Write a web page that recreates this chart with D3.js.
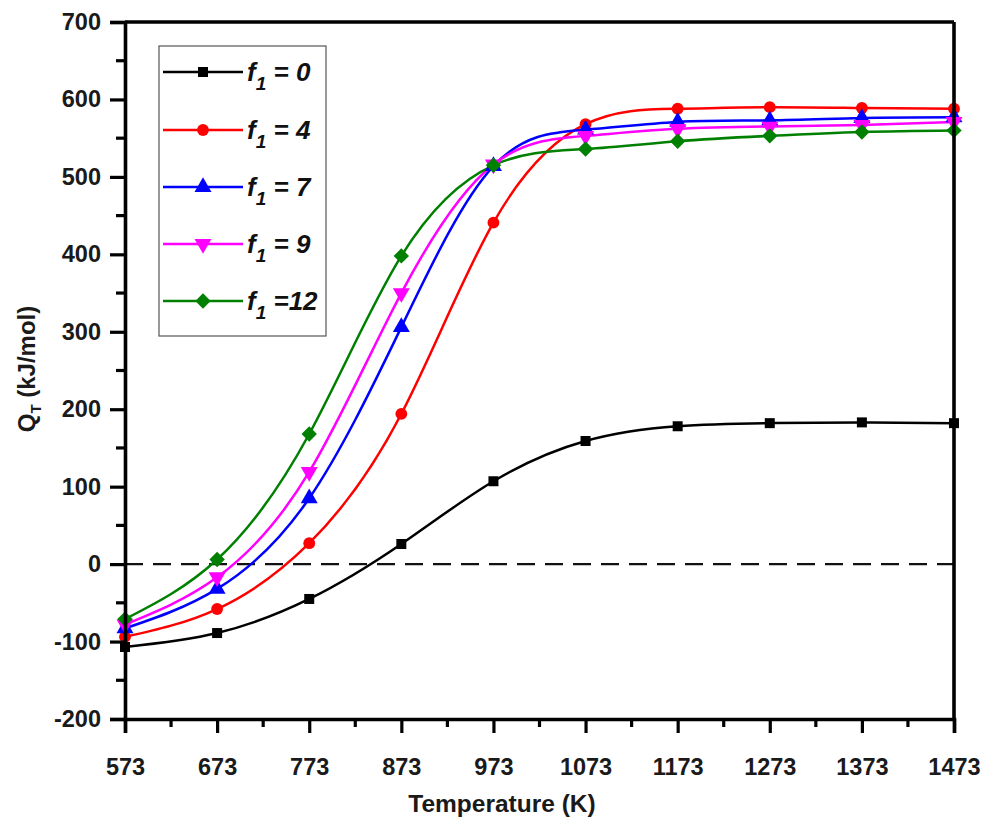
<!DOCTYPE html>
<html>
<head>
<meta charset="utf-8">
<script src="https://cdn.jsdelivr.net/npm/d3@7"></script>
<style>
  html, body { margin: 0; padding: 0; background: #fff; }
  svg { display: block; font-family: "Liberation Sans", Arial, sans-serif; }
</style>
</head>
<body>
<svg id="chart" width="992" height="823"></svg>
<script>
// Temperatures (K) at which Q_T was evaluated
const temperatures = [573, 673, 773, 873, 973, 1073, 1173, 1273, 1373, 1473];

// Q_T (kJ/mol) for each f1 value
const qF0  = [-107, -89, -45,  26, 107, 159, 178, 182, 183, 182];
const qF4  = [ -94, -58,  27, 194, 441, 568, 588, 590, 589, 588];
const qF7  = [ -83, -32,  85, 306, 514, 561, 571, 573, 576, 577];
const qF9  = [ -78, -17, 119, 350, 516, 553, 562, 565, 567, 571];
const qF12 = [ -71,   6, 168, 398, 515, 536, 546, 553, 558, 560];

const seriesNames = ["0", "4", "7", "9", "12"];
const seriesValues = [qF0, qF4, qF7, qF9, qF12];
const seriesColors = ["#000000", "#ff0000", "#0000ff", "#ff00ff", "#008000"];
const seriesSymbols = ["square", "circle", "up", "down", "diamond"];

const xTicks = [573, 673, 773, 873, 973, 1073, 1173, 1273, 1373, 1473];
const yTicks = [-200, -100, 0, 100, 200, 300, 400, 500, 600, 700];

const svg = d3.select("#chart");
const mLeft = 125, mRight = 954, mTop = 22, mBottom = 719;

const x = d3.scaleLinear().domain([573, 1473]).range([mLeft, mRight]);
const y = d3.scaleLinear().domain([-200, 700]).range([mBottom, mTop]);

// Data curves
const line = d3.line()
  .x((d, i) => x(temperatures[i]))
  .y(d => y(d))
  .curve(d3.curveNatural);

const plot = svg.append("g");

// Zero reference line
plot.append("line")
  .attr("x1", x(573)).attr("x2", x(1473))
  .attr("y1", y(0)).attr("y2", y(0))
  .attr("stroke", "#111").attr("stroke-width", 2.4)
  .attr("stroke-dasharray", "18,10");

seriesValues.forEach((vals, s) => {
  plot.append("path")
    .datum(vals)
    .attr("d", line)
    .attr("fill", "none")
    .attr("stroke", seriesColors[s])
    .attr("stroke-width", 2.5);
});

// Marker shapes: [d3 symbol, area, rotation]
const symbolTypes = {
  square: [d3.symbolSquare, 100, 0],
  circle: [d3.symbolCircle, 110, 0],
  up: [d3.symbolTriangle, 125, 0],
  down: [d3.symbolTriangle, 125, 180],
  diamond: [d3.symbolSquare, 118, 45]
};

function drawMarker(g, s, cx, cy) {
  const [type, size, rot] = symbolTypes[seriesSymbols[s]];
  g.append("path")
    .attr("d", d3.symbol(type, size)())
    .attr("fill", seriesColors[s])
    .attr("transform", `translate(${cx},${cy}) rotate(${rot})`);
}

// Markers
seriesValues.forEach((vals, s) => {
  const g = plot.append("g");
  vals.forEach((v, i) => drawMarker(g, s, x(temperatures[i]), y(v)));
});

// Axes
const axisColor = "#000";
const plainNumber = d => String(d);
const xAxis = d3.axisBottom(x).tickValues(xTicks).tickSize(14).tickPadding(25).tickFormat(plainNumber);
const yAxis = d3.axisLeft(y).tickValues(yTicks).tickSize(15).tickPadding(9).tickFormat(plainNumber);

const gx = svg.append("g").attr("transform", `translate(0,${mBottom})`).call(xAxis);
const gy = svg.append("g").attr("transform", `translate(${mLeft},0)`).call(yAxis);

// Minor ticks
const xMinor = d3.range(623, 1473, 100);
const yMinor = d3.range(-150, 700, 100);
gx.selectAll(".minor").data(xMinor).enter().append("line")
  .attr("x1", d => x(d)).attr("x2", d => x(d)).attr("y1", 0).attr("y2", 8)
  .attr("stroke", axisColor).attr("stroke-width", 3.2);
gy.selectAll(".minor").data(yMinor).enter().append("line")
  .attr("y1", d => y(d)).attr("y2", d => y(d)).attr("x1", 0).attr("x2", -9)
  .attr("stroke", axisColor).attr("stroke-width", 3.2);

[gx, gy].forEach(g => {
  g.select(".domain").attr("stroke", axisColor).attr("stroke-width", 3.6);
  g.selectAll(".tick line").attr("stroke", axisColor).attr("stroke-width", 3.2);
  g.selectAll(".tick text")
    .attr("fill", "#1a1a1a")
    .style("font-family", "'Liberation Sans', Arial, sans-serif")
    .style("font-size", "23.5px")
    .style("font-weight", "bold");
});

// Top and right frame lines
svg.append("line").attr("x1", mLeft).attr("x2", mRight).attr("y1", mTop).attr("y2", mTop)
  .attr("stroke", axisColor).attr("stroke-width", 3.6);
svg.append("line").attr("x1", mRight).attr("x2", mRight).attr("y1", mTop).attr("y2", mBottom)
  .attr("stroke", axisColor).attr("stroke-width", 3.6);

// Axis titles
svg.append("text")
  .attr("x", 502).attr("y", 812)
  .attr("text-anchor", "middle")
  .style("font-size", "24.5px").style("font-weight", "bold").attr("fill", "#1a1a1a")
  .text("Temperature (K)");

const yt = svg.append("text")
  .attr("transform", `translate(35,369) rotate(-90)`)
  .attr("text-anchor", "middle")
  .style("font-size", "24px").style("font-weight", "bold").attr("fill", "#1a1a1a");
yt.append("tspan").text("Q");
yt.append("tspan").attr("dy", 6).style("font-size", "15px").text("T");
yt.append("tspan").attr("dy", -6).text(" (kJ/mol)");

// Legend
const legend = svg.append("g");
legend.append("rect")
  .attr("x", 159).attr("y", 46).attr("width", 167).attr("height", 290)
  .attr("fill", "#fff").attr("stroke", "#555").attr("stroke-width", 1.2);

const legendRows = [72, 130, 187, 244, 301];
seriesNames.forEach((name, s) => {
  const ly = legendRows[s];
  legend.append("line")
    .attr("x1", 163).attr("x2", 243).attr("y1", ly).attr("y2", ly)
    .attr("stroke", seriesColors[s]).attr("stroke-width", 2.5);
  drawMarker(legend, s, 203, ly);
  const t = legend.append("text")
    .attr("x", 247).attr("y", ly + 9)
    .style("font-size", "26px").style("font-weight", "bold").style("font-style", "italic")
    .attr("fill", "#111");
  t.append("tspan").text("f");
  t.append("tspan").attr("dy", 9).style("font-size", "19px").text("1");
  t.append("tspan").attr("dy", -9).text(name.length > 1 ? " =" + name : " = " + name);
});
</script>
</body>
</html>
